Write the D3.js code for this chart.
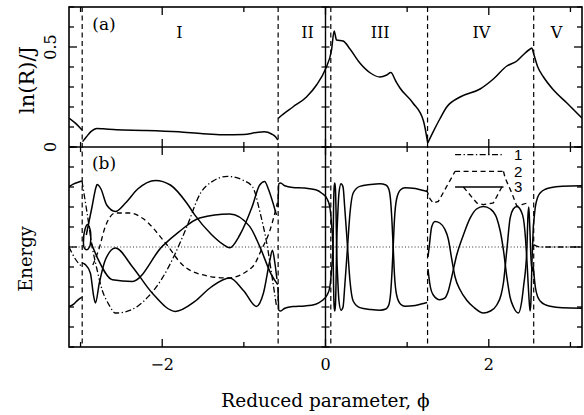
<!DOCTYPE html>
<html><head><meta charset="utf-8">
<script src="https://cdn.jsdelivr.net/npm/d3@7"></script>
<style>body{margin:0;background:#fff}svg{display:block}</style>
</head><body>
<svg id="c" width="584" height="415"></svg>
<script>
// ---------- data ----------
const phiDomain = [-Math.PI, Math.PI];
const lnRDomain = [0, 0.7];
const energyDomain = [-2.5, 2.5];
const xTickValues = [-3, -2, -1, 0, 1, 2, 3];
const xTickLabels = [-2, 0, 2];
const lnRTickValues = [0, 0.1, 0.2, 0.3, 0.4, 0.5, 0.6, 0.7];
const lnRTickLabels = [0, 0.5];
const energyTickValues = [-2.5, -2, -1.5, -1, -0.5, 0, 0.5, 1, 1.5, 2, 2.5];
const boundaries = [-2.98, -0.58, 0.065, 1.25, 2.55];
const regionLabels = ["I", "II", "III", "IV", "V"];
const regionLabelPhi = [-1.79, -0.22, 0.67, 1.91, 2.83];

// panel (a): ln(R)/J
const lnR0 = [[-3.1416,0.145],[-3.06,0.118],[-2.982,0.085]];
const lnR1 = [[-2.976,0.027],[-2.93,0.05],[-2.87,0.078],[-2.80,0.093],[-2.72,0.091],[-2.56,0.086],[-2.2,0.083],[-1.8,0.076],[-1.5,0.066],[-1.26,0.061],[-1.0,0.063],[-0.85,0.072],[-0.75,0.076],[-0.66,0.065],[-0.61,0.05],[-0.585,0.035]];
const lnR2 = [[-0.578,0.143],[-0.56,0.15],[-0.40,0.20],[-0.233,0.25],[-0.11,0.31],[0,0.39],[0.074,0.485],[0.106,0.58],[0.135,0.535],[0.216,0.53],[0.30,0.49],[0.421,0.42],[0.55,0.37],[0.666,0.35],[0.75,0.36],[0.80,0.372],[0.86,0.33],[0.912,0.295],[1.071,0.22],[1.2,0.13],[1.252,0.02]];
const lnR3 = [[1.252,0.02],[1.32,0.077],[1.40,0.14],[1.485,0.20],[1.648,0.25],[1.893,0.29],[2.056,0.34],[2.221,0.405],[2.344,0.43],[2.42,0.46],[2.507,0.49],[2.528,0.495],[2.547,0.47],[2.60,0.40],[2.67,0.35],[2.793,0.285],[2.957,0.22],[3.1416,0.145]];

// panel (b): energy curves, type 3 (solid)
const solidLeftTop = [[-3.1416,1.51],[-3.09,1.57],[-3.03,1.62],[-2.985,1.65]];
const solidLeftBottom = [[-3.1416,-1.49],[-3.08,-1.42],[-3.03,-1.32],[-2.985,-1.26]];
const solidLoop = [[-2.965,0.1],[-2.945,0.45],[-2.915,0.56],[-2.885,0.45],[-2.875,0.2],[-2.89,0.0],[-2.925,-0.07],[-2.955,-0.02]];
const solidS1 = [[-2.93,0.3],[-2.86,1.0],[-2.81,1.5],[-2.798,1.56],[-2.75,1.45],[-2.68,1.05],[-2.573,0.89],[-2.45,1.1],[-2.30,1.45],[-2.082,1.665],[-1.90,1.55],[-1.70,1.1],[-1.604,0.81],[-1.40,0.32],[-1.25,0.06],[-1.174,-0.02],[-1.05,0.3],[-0.90,1.0],[-0.806,1.55],[-0.745,1.64],[-0.70,1.45],[-0.643,1.1],[-0.601,0.8]];
const solidS2 = [[-2.982,-0.4],[-2.941,-0.44],[-2.88,-0.65],[-2.839,-1.235],[-2.818,-1.40],[-2.77,-0.9],[-2.696,-0.32],[-2.573,-0.025],[-2.368,-0.485],[-2.123,-1.15],[-1.837,-1.61],[-1.60,-1.36],[-1.40,-1.0],[-1.174,-0.775],[-1.0,-1.1],[-0.847,-1.485],[-0.76,-1.15],[-0.683,-0.35],[-0.65,-0.08],[-0.62,-0.4],[-0.595,-0.8]];
const solidS3 = [[-2.87,0.1],[-2.782,-0.32],[-2.61,-0.82],[-2.364,-0.86],[-2.0,0.015],[-1.788,0.39],[-1.542,0.725],[-1.174,0.825],[-0.929,0.515],[-0.806,0.015],[-0.663,-0.69],[-0.585,-0.94]];
const solidC23 = [[-0.582,1.0],[-0.571,1.58],[-0.55,1.6],[-0.499,1.53],[-0.40,1.49],[-0.254,1.475],[-0.12,1.43],[-0.049,1.35],[0.02,1.2],[0.053,1.0],[0.075,0.55],[0.092,0],[0.099,-1.0],[0.106,-1.5],[0.114,-1.6],[0.122,-1.45],[0.129,-0.9],[0.136,0],[0.15,0.8],[0.165,1.35],[0.19,1.58],[0.215,1.5],[0.235,1.0],[0.27,0],[0.30,-0.85],[0.339,-1.35],[0.42,-1.515],[0.55,-1.56],[0.666,-1.58],[0.74,-1.55],[0.775,-1.45],[0.80,-1.1],[0.815,-0.6],[0.829,0],[0.845,0.7],[0.871,1.2],[0.92,1.43],[0.973,1.48],[1.10,1.46],[1.20,1.41],[1.245,1.39]];
const solidA = [[1.255,-0.25],[1.27,0.0],[1.30,0.5],[1.341,0.64],[1.40,0.6],[1.46,0.45],[1.504,0.2],[1.546,-0.3],[1.587,-0.75],[1.648,-1.07],[1.73,-1.33],[1.812,-1.5],[1.934,-1.65],[2.02,-1.6],[2.098,-1.45],[2.15,-1.2],[2.179,-0.9],[2.221,-0.07],[2.261,0.72],[2.30,0.95],[2.344,1.015],[2.39,0.92],[2.425,0.7],[2.45,0.2],[2.466,-0.3],[2.49,-1.2],[2.505,-1.6],[2.515,-1.4],[2.53,-0.3],[2.545,0.5]];
const solidB = [[1.255,-0.55],[1.28,-0.95],[1.32,-1.2],[1.40,-1.32],[1.46,-1.28],[1.504,-1.1],[1.546,-0.75],[1.607,-0.2],[1.689,0.3],[1.771,0.72],[1.85,0.95],[1.934,1.015],[2.02,0.95],[2.098,0.72],[2.14,0.4],[2.179,-0.07],[2.221,-0.75],[2.26,-1.25],[2.302,-1.5],[2.363,-1.65],[2.40,-1.4],[2.425,-1.0],[2.466,-0.07],[2.48,0.8],[2.49,1.0],[2.50,0.6],[2.52,-0.4],[2.535,-0.6],[2.545,-0.5]];
const solidCV = [[2.545,0.5],[2.57,1.0],[2.60,1.25],[2.629,1.35],[2.70,1.45],[2.752,1.48],[2.9,1.52],[3.1416,1.53]];

// type 1 (dash-dot)
const dashDotLeft = [[-3.1416,0],[-3.064,-0.3],[-2.985,-0.49]];
const dashDotD1 = [[-2.982,1.64],[-2.92,0.85],[-2.859,0.02],[-2.80,-0.55],[-2.736,-1.07],[-2.65,-1.45],[-2.573,-1.65],[-2.45,-1.62],[-2.30,-1.48],[-2.168,-1.235],[-2.0,-0.78],[-1.837,-0.15],[-1.70,0.5],[-1.53,1.35],[-1.40,1.62],[-1.20,1.765],[-1.0,1.66],[-0.892,1.5],[-0.80,0.85],[-0.72,0.1],[-0.643,-0.9],[-0.60,-1.48]];
const dashDotV = [[2.547,0.06],[2.63,0],[3.1416,0]];

// type 2 (dashed)
const dashedD2 = [[-2.85,-0.45],[-2.778,-0.07],[-2.696,0.515],[-2.573,0.85],[-2.40,0.85],[-2.245,0.725],[-1.96,0.1],[-1.75,-0.45],[-1.555,-0.67],[-1.2,-0.775],[-0.89,-0.485],[-0.785,-0.07],[-0.683,0.4],[-0.62,0.85],[-0.59,1.1]];

// legend
const legendLabels = ["1", "2", "3"];
const legendE = [2.31, 1.89, 1.50];
const legendPhi = [1.587, 2.18];
const legendLabelPhi = 2.36;
const leader2Left = [[1.239,1.43],[1.28,1.2],[1.32,1.10],[1.382,1.14],[1.587,1.89]];
const leader2Right = [[2.18,1.89],[2.2,1.725],[2.282,1.35],[2.344,1.015],[2.405,1.06],[2.486,1.11]];
const leader3 = [[1.689,1.50],[1.853,1.10],[1.934,1.06],[2.056,1.10],[2.16,1.50]];

// ---------- layout ----------
const L = 69, R = 582, T = 7, M = 147, B = 347;
const svg = d3.select("#c");
const x = d3.scaleLinear().domain(phiDomain).range([L, R]);
const yA = d3.scaleLinear().domain(lnRDomain).range([M, T]);
const yB = d3.scaleLinear().domain(energyDomain).range([B, M]);
const serif = "'DejaVu Serif', 'Liberation Serif', serif";

const defs = svg.append("defs");
defs.append("clipPath").attr("id","ca").append("rect").attr("x",L).attr("y",T).attr("width",R-L).attr("height",M-T);
defs.append("clipPath").attr("id","cb").append("rect").attr("x",L).attr("y",M).attr("width",R-L).attr("height",B-M);

const gA = svg.append("g").attr("clip-path","url(#ca)");
const gB = svg.append("g").attr("clip-path","url(#cb)");

// zero dotted line in panel b
gB.append("line").attr("x1",L).attr("x2",R).attr("y1",yB(0)).attr("y2",yB(0))
  .attr("stroke","#333").attr("stroke-width",1).attr("stroke-dasharray","1,2.2");

// boundaries
boundaries.forEach(p => {
  svg.append("line").attr("x1",x(p)).attr("x2",x(p)).attr("y1",T).attr("y2",B)
    .attr("stroke","#000").attr("stroke-width",1.2).attr("stroke-dasharray","5,3.5");
});

// inner axis at phi = 0
svg.append("line").attr("x1",x(0)).attr("x2",x(0)).attr("y1",T).attr("y2",B).attr("stroke","#000").attr("stroke-width",1.4);
lnRTickValues.forEach(v => svg.append("line").attr("x1",x(0)-4).attr("x2",x(0)+4).attr("y1",yA(v)).attr("y2",yA(v)).attr("stroke","#000").attr("stroke-width",1.2));
energyTickValues.forEach(v => svg.append("line").attr("x1",x(0)-4).attr("x2",x(0)+4).attr("y1",yB(v)).attr("y2",yB(v)).attr("stroke","#000").attr("stroke-width",1.2));

// panel a curve
const lineA = d3.line().x(d=>x(d[0])).y(d=>yA(d[1])).curve(d3.curveMonotoneX);
[lnR0, lnR1, lnR2, lnR3].forEach(s => gA.append("path").attr("d", lineA(s)).attr("fill","none").attr("stroke","#000").attr("stroke-width",1.5));

// panel b curves
const lineB = d3.line().x(d=>x(d[0])).y(d=>yB(d[1])).curve(d3.curveMonotoneX);
const lineLin = d3.line().x(d=>x(d[0])).y(d=>yB(d[1]));
const neg = s => s.map(d => [d[0], -d[1]]);
function drawB(s, dash, gen) {
  gB.append("path").attr("d", (gen||lineB)(s)).attr("fill","none").attr("stroke","#000")
    .attr("stroke-width", dash ? 1.3 : 1.5).attr("stroke-dasharray", dash || null);
}
const DD = "6,2.5,1.3,2.5", DS = "5,3.5";
[solidLeftTop, solidLeftBottom, solidS1, solidS2, solidS3, solidC23, neg(solidC23), solidA, solidB, solidCV, neg(solidCV)].forEach(s => drawB(s));
drawB(solidLoop, null, d3.line().x(d=>x(d[0])).y(d=>yB(d[1])).curve(d3.curveCatmullRomClosed));
[dashDotLeft, dashDotD1, dashDotV].forEach(s => drawB(s, DD));
drawB(dashedD2, DS);
drawB(leader2Left, DS, lineLin);
drawB(leader2Right, DS, lineLin);
drawB(leader3, DS, lineLin);

// legend
legendLabels.forEach((lab, i) => {
  svg.append("line").attr("x1",x(legendPhi[0])).attr("x2",x(legendPhi[1])).attr("y1",yB(legendE[i])).attr("y2",yB(legendE[i]))
    .attr("stroke","#000").attr("stroke-width",1.3).attr("stroke-dasharray", i===0 ? DD : i===1 ? DS : null);
  svg.append("text").attr("x",x(legendLabelPhi)).attr("y",yB(legendE[i])).attr("dy","0.36em")
    .attr("text-anchor","middle").attr("font-family","'Liberation Sans', Arial, sans-serif").attr("font-size",15).text(lab);
});

// frame
svg.append("rect").attr("x",L).attr("y",T).attr("width",R-L).attr("height",B-T).attr("fill","none").attr("stroke","#000").attr("stroke-width",1.6);
svg.append("line").attr("x1",L).attr("x2",R).attr("y1",M).attr("y2",M).attr("stroke","#000").attr("stroke-width",1.6);

// x ticks on top, divider, bottom
const tk = (x1,y1,x2,y2) => svg.append("line").attr("x1",x1).attr("y1",y1).attr("x2",x2).attr("y2",y2).attr("stroke","#000").attr("stroke-width",1.3);
xTickValues.forEach(v => {
  const len = xTickLabels.includes(v) ? 8 : 5;
  tk(x(v), T, x(v), T+len);
  tk(x(v), M-len, x(v), M+len);
  tk(x(v), B, x(v), B-len);
});
// y ticks left/right
lnRTickValues.forEach(v => {
  const len = lnRTickLabels.includes(v) ? 8 : 5;
  tk(L, yA(v), L+len, yA(v)); tk(R, yA(v), R-len, yA(v));
});
energyTickValues.forEach(v => {
  const len = v === 0 ? 8 : 5;
  tk(L, yB(v), L+len, yB(v)); tk(R, yB(v), R-len, yB(v));
});

// tick labels
xTickLabels.forEach(v => svg.append("text").attr("x",x(v)).attr("y",B+17).attr("dy","0.36em").attr("text-anchor","middle")
  .attr("font-family",serif).attr("font-size",16).text(v < 0 ? "\u2212" + Math.abs(v) : String(v)));
lnRTickLabels.forEach(v => svg.append("text").attr("transform",`translate(${L-19},${yA(v)}) rotate(-90)`).attr("dy","0.36em").attr("text-anchor","middle")
  .attr("font-family",serif).attr("font-size",16).text(String(v)));

// axis titles
svg.append("text").attr("x",x(0)).attr("y",400).attr("dy","0.36em").attr("text-anchor","middle")
  .attr("font-family",serif).attr("font-size",18.5).text("Reduced parameter, \u03d5");
svg.append("text").attr("transform",`translate(26,${yA(0.335)}) rotate(-90)`).attr("dy","0.36em").attr("text-anchor","middle")
  .attr("font-family",serif).attr("font-size",21).text("ln(R)/J");
svg.append("text").attr("transform",`translate(26,${yB(-0.3)}) rotate(-90)`).attr("dy","0.36em").attr("text-anchor","middle")
  .attr("font-family",serif).attr("font-size",18).text("Energy");

// panel labels
svg.append("text").attr("x",104).attr("y",24).attr("dy","0.36em").attr("text-anchor","middle").attr("font-family",serif).attr("font-size",17).text("(a)");
svg.append("text").attr("x",104).attr("y",163).attr("dy","0.36em").attr("text-anchor","middle").attr("font-family",serif).attr("font-size",17).text("(b)");
regionLabels.forEach((lab,i) => svg.append("text").attr("x",x(regionLabelPhi[i])).attr("y",32).attr("dy","0.36em").attr("text-anchor","middle")
  .attr("font-family",serif).attr("font-size",16).text(lab));
</script>
</body></html>
